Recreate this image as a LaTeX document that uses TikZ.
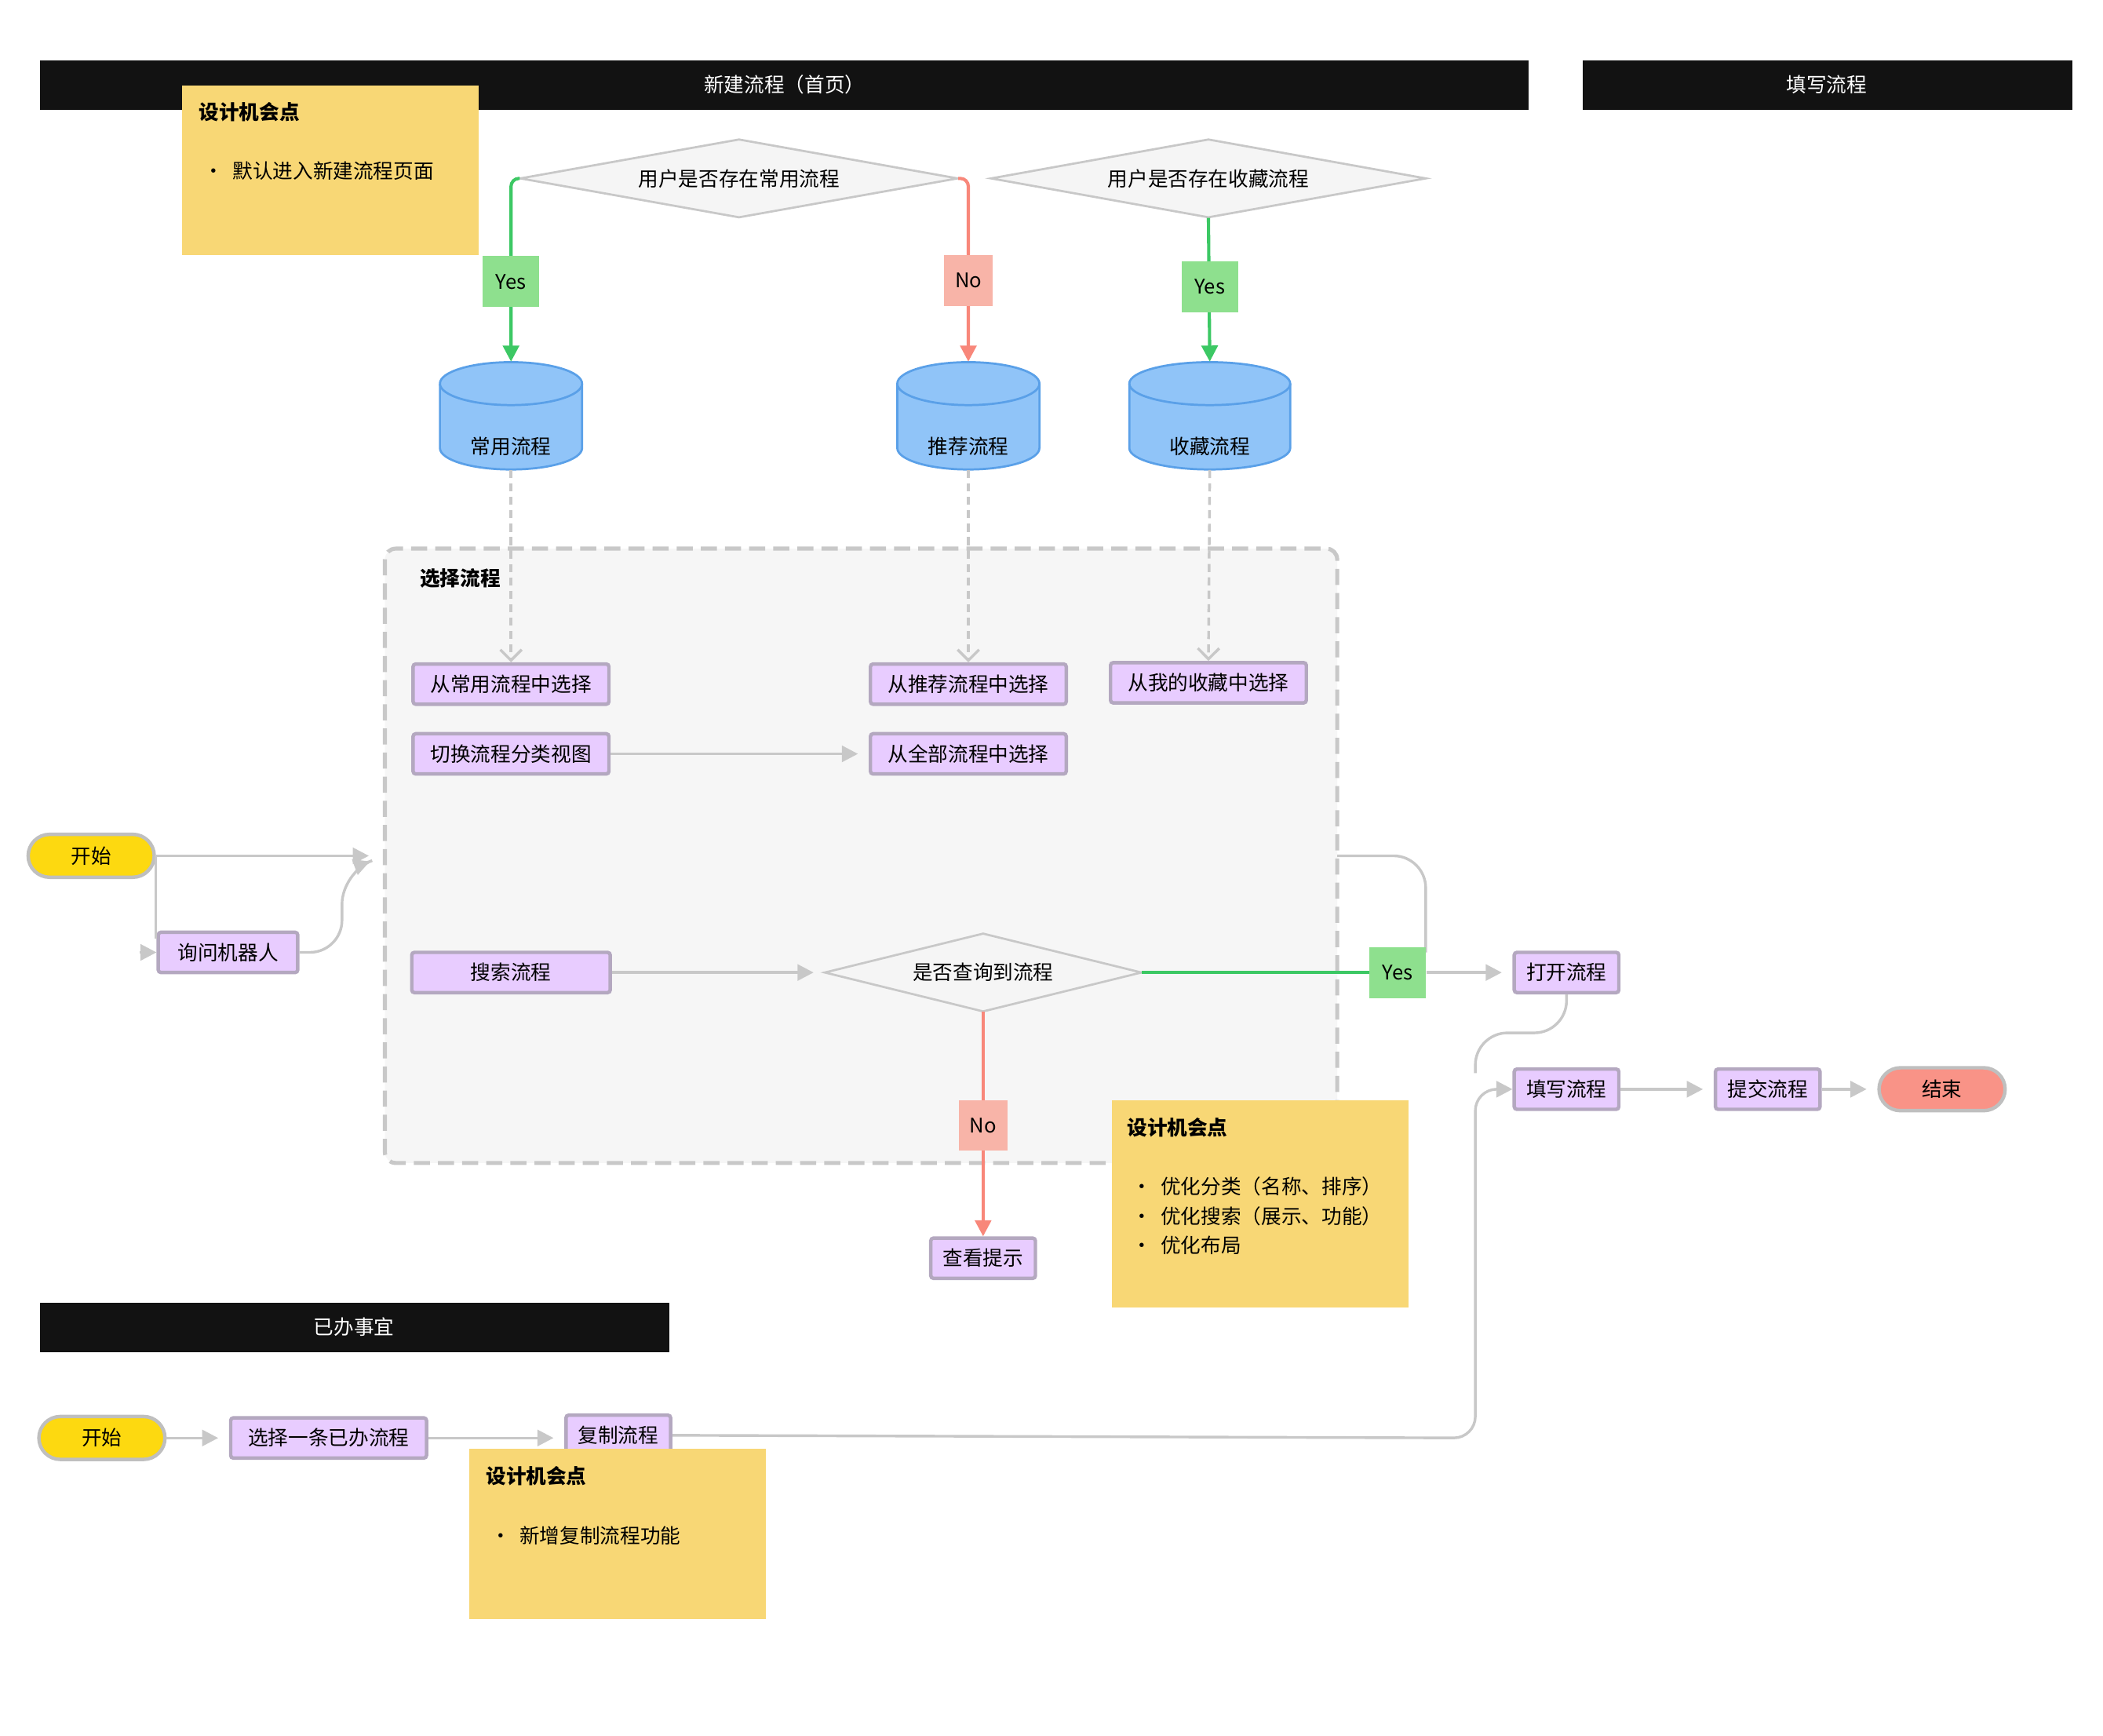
\documentclass[tikz,border=0pt]{standalone}
\usepackage{fontspec}
\setmainfont{Noto Sans CJK SC}
\usetikzlibrary{shapes.geometric,arrows.meta,positioning}
\definecolor{purp}{HTML}{E8CCFF}
\definecolor{pbd}{HTML}{B4A8C0}
\definecolor{notec}{HTML}{F8D775}
\definecolor{gy}{HTML}{C8C8C8}
\definecolor{grn}{HTML}{3CC864}
\definecolor{sal}{HTML}{F8877A}
\definecolor{ylab}{HTML}{8EE08E}
\definecolor{nlab}{HTML}{F8B4A8}
\definecolor{cyl}{HTML}{90C4F8}
\definecolor{cylb}{HTML}{5AA0E8}
\newcommand{\mydia}[5]{% name, x, y, halfwidth, text
  \fill[black!4,draw=gy,line width=0.8pt] (#2-#4,#3) -- (#2,#3-29) -- (#2+#4,#3) -- (#2,#3+29) -- cycle;
  \node[inner sep=0pt,minimum width=#4pt,minimum height=29pt] (#1) at (#2,#3) {#5};}
\newcommand{\mycyl}[5]{% name, x, y, halfwidth, text
  \fill[cyl,draw=cylb,line width=0.8pt] (#2-#4,#3-24) -- (#2-#4,#3+24) arc[start angle=180,end angle=360,x radius=#4,y radius=-16] -- (#2+#4,#3-24) arc[start angle=0,end angle=180,x radius=#4,y radius=-16];
  \draw[cylb,line width=0.8pt] (#2-#4,#3-24) arc[start angle=180,end angle=360,x radius=#4,y radius=-16];
  \node[inner sep=0pt,minimum width=#4pt,minimum height=40pt] (#1) at (#2,#3) {};
  \node at (#2,#3+23) {#5};}
\begin{document}
\begin{tikzpicture}[x=0.5pt,y=-0.5pt,font=\fontsize{7.5}{9}\selectfont,
 proc/.style={draw=pbd,line width=1.3pt,fill=purp,minimum height=15pt,inner xsep=6.5pt,rounded corners=1pt},
 sproc/.style={proc,inner xsep=4.5pt},
 yes/.style={fill=ylab,minimum width=21pt,minimum height=19pt,inner sep=1pt},
 no/.style={fill=nlab,minimum width=18pt,minimum height=19pt,inner sep=1pt},
 pill/.style={draw=black!25,line width=1.3pt,rounded corners=8pt,minimum width=47pt,minimum height=16pt},
 note/.style={anchor=north west,align=left,inner sep=0pt},
 ga/.style={gy,line width=1pt,-{Triangle[length=6pt,width=6pt]}},
 gl/.style={gy,line width=1pt},
 da/.style={gy,line width=1pt,dash pattern=on 3pt off 2pt,-{Straight Barb[length=4pt,width=8pt]}},
 gr/.style={grn,line width=1.2pt},
 sa/.style={sal,line width=1.2pt}]
\useasboundingbox (0,0) rectangle (1568,1294);
\fill[white] (0,0) rectangle (1568,1294);
% headers
\fill[black!93] (30,45) rectangle (1140,82); \node[text=white] (h1) at (585,63) {新建流程（首页）};
\fill[black!93] (1180,45) rectangle (1545,82); \node[text=white] (h2) at (1362,63) {填写流程};
\fill[black!93] (30,971) rectangle (499,1008); \node[text=white] (h3) at (264,989) {已办事宜};
% group
\draw[gy,line width=1.5pt,dash pattern=on 6pt off 3pt,fill=black!3.5,rounded corners=4pt] (287,409) rectangle (997,867);
\coordinate (g1) at (287,638); \coordinate (g2) at (997,638);
\node[anchor=west] (gl) at (306,431) {\bfseries 选择流程};
% note 1
\fill[notec] (136,64) rectangle (357,190);
\node[note] (n1) at (148,76) {\bfseries 设计机会点\\[13pt] \ \textbullet\ \ 默认进入新建流程页面};
% diamonds
\mydia{d1}{551}{133}{163}{用户是否存在常用流程}
\mydia{d2}{901}{133}{162}{用户是否存在收藏流程}
\mydia{d3}{733}{725}{118}{是否查询到流程}
% cylinders
\mycyl{c1}{381}{310}{53}{常用流程}
\mycyl{c2}{722}{310}{53}{推荐流程}
\mycyl{c3}{902}{310}{60}{收藏流程}
% processes
\node[proc] (p1) at (381,510) {从常用流程中选择};
\node[proc] (p2) at (722,510) {从推荐流程中选择};
\node[proc] (p3) at (901,509) {从我的收藏中选择};
\node[proc] (p4) at (381,562) {切换流程分类视图};
\node[proc] (p5) at (722,562) {从全部流程中选择};
\node[proc,minimum width=74pt] (p6) at (381,725) {搜索流程};
\node[proc,minimum width=52pt] (ask) at (170,710) {询问机器人};
\node[sproc] (open) at (1168,725) {打开流程};
\node[sproc] (fill) at (1168,812) {填写流程};
\node[sproc] (sub) at (1318,812) {提交流程};
\node[sproc] (tip) at (733,938) {查看提示};
\node[proc] (sel) at (245,1072) {选择一条已办流程};
\node[sproc] (copy) at (461,1070) {复制流程};
\node[pill,fill=yellow!75!orange!95] (s1) at (68,638) {开始};
\node[pill,fill=yellow!75!orange!95] (s2) at (76,1072) {开始};
\node[pill,fill=sal!90] (end) at (1448,812) {结束};
% edges top
\draw[gr,-{Triangle[length=6pt,width=6pt]},rounded corners=3pt] (d1.west) -- (381,133) -- (c1.north);
\draw[sa,-{Triangle[length=6pt,width=6pt]},rounded corners=3pt] (d1.east) -- (722,133) -- (c2.north);
\draw[gr,-{Triangle[length=6pt,width=6pt]}] (d2.south) -- (c3.north);
\node[yes] (y1) at (381,210) {Yes};
\node[no] (no1) at (722,209) {No};
\node[yes] (y2) at (902,214) {Yes};
\draw[da] (c1.south) -- (p1.north);
\draw[da] (c2.south) -- (p2.north);
\draw[da] (c3.south) -- (p3.north);
\draw[ga,shorten >=4pt] (p4) -- (p5);
% left
\draw[ga,shorten >=6pt] (s1.east) -- (g1);
\coordinate (k1) at (116,638);
\draw[gl] (k1) -- (116,700);
\coordinate (k2) at (104,710);
\draw[ga] (k2) -- (ask.west);
\draw[ga,rounded corners=12pt,shorten >=6pt] (ask.east) -- (255,710) -- (255,650) -- (g1);
\draw[ga,shorten >=4pt] (p6) -- (d3.west);
\coordinate (j1) at (1063,710);
\draw[gl,rounded corners=12pt] (g2) -- (1063,638) -- (j1);
\draw[gr] (d3.east) -- (1025,725);
\node[yes] (y3) at (1042,725) {Yes};
\draw[ga,shorten >=4pt] (y3) -- (open);
\draw[sa,-{Triangle[length=6pt,width=6pt]}] (d3.south) -- (tip.north);
\node[no] (no2) at (733,839) {No};
\draw[gl,rounded corners=12pt] (open.south) -- (1168,770) -- (1100,770) -- (1100,800);
\draw[ga,rounded corners=8pt] (copy.east) -- (1100,1072) -- (1100,812) -- (fill.west);
\draw[ga,shorten >=4pt] (fill) -- (sub);
\draw[ga,shorten >=4pt] (sub) -- (end);
\draw[ga,shorten >=4pt] (s2) -- (sel);
\draw[ga,shorten >=4pt] (sel.east) -- (copy.west|-sel.east);
% notes
\fill[notec] (829,820) rectangle (1050,975);
\node[note] (n2) at (840,833) {\bfseries 设计机会点\\[13pt] \ \textbullet\ \ 优化分类（名称、排序）\\[2pt] \ \textbullet\ \ 优化搜索（展示、功能）\\[2pt] \ \textbullet\ \ 优化布局};
\fill[notec] (350,1080) rectangle (571,1207);
\node[note] (n3) at (362,1093) {\bfseries 设计机会点\\[13pt] \ \textbullet\ \ 新增复制流程功能};
\end{tikzpicture}
\end{document}
